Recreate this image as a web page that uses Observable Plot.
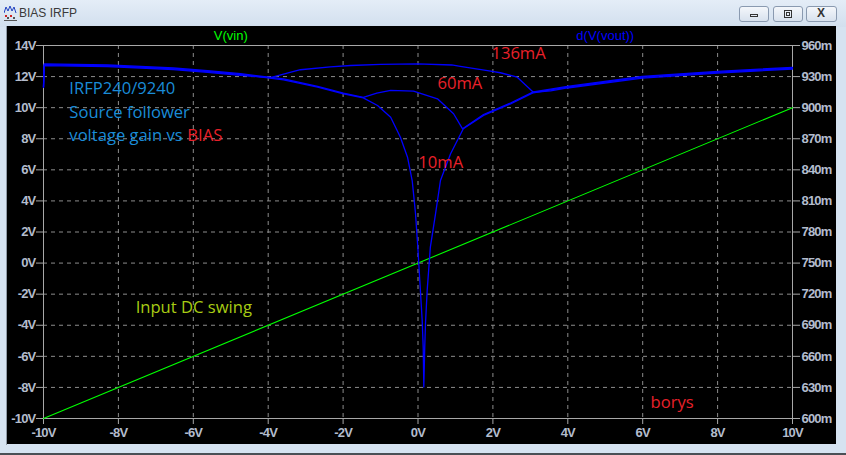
<!DOCTYPE html>
<html><head><meta charset="utf-8">
<script src="https://cdn.jsdelivr.net/npm/d3@7"></script>
<script src="https://cdn.jsdelivr.net/npm/@observablehq/plot@0.6"></script>
<style>
html,body{margin:0;padding:0;}
body{width:846px;height:455px;background:#d6e3f1;position:relative;overflow:hidden;font-family:"Liberation Sans",Arial,sans-serif;}
#titlebar{position:absolute;left:0;top:0;width:846px;height:27px;background:linear-gradient(#e4edf7,#d2dfee);}
#title{position:absolute;left:19px;top:6px;font-size:12px;color:#3a3a3a;font-family:"Liberation Sans",Arial,sans-serif;}
#icon{position:absolute;left:4px;top:5px;}
.btn{position:absolute;top:6px;height:16px;border:1px solid #8a9ab0;border-radius:3px;background:linear-gradient(#f4f7fb,#d8e2ee);box-sizing:border-box;}
.btn .g{position:absolute;}
#frameL{position:absolute;left:6px;top:26px;width:1px;height:419px;background:#8f9aa6;}
#frameB{position:absolute;left:0;top:453px;width:846px;height:2px;background:#4a4f55;}
#chart{position:absolute;left:7px;top:26px;}
</style>
</head><body>
<div id="titlebar">
  <svg id="icon" width="13" height="17" viewBox="0 0 13 17">
    <polyline points="0,8 2,2 4,6 6,1 8,6 10,2 12,8" fill="none" stroke="#2040c0" stroke-width="1"/>
    <rect x="1" y="10" width="2" height="2" fill="#d02020"/><rect x="6" y="10" width="2" height="2" fill="#d02020"/>
    <rect x="3" y="12" width="2" height="2" fill="#555"/><rect x="9" y="12" width="2" height="2" fill="#555"/>
    <rect x="0" y="15" width="13" height="1" fill="#555"/>
  </svg>
  <div id="title">BIAS IRFP</div>
  <div class="btn" style="left:739px;width:30px;"><div class="g" style="left:10px;top:7px;width:8px;height:3px;border:1px solid #333;box-sizing:border-box;"></div></div>
  <div class="btn" style="left:773px;width:30px;"><div class="g" style="left:10px;top:3px;width:8px;height:8px;border:1px solid #333;box-sizing:border-box;"></div><div class="g" style="left:12px;top:5px;width:4px;height:4px;border:1px solid #333;box-sizing:border-box;"></div></div>
  <div class="btn" style="left:806px;width:31px;"><div class="g" style="left:10px;top:-1px;font:bold 12px 'Liberation Sans';color:#333;">X</div></div>
</div>
<div id="frameL"></div>
<div id="chart"></div>
<div id="frameB"></div>
<script>
// V(vin) : input DC swing (left axis, volts)
const vinX = [-10, 10];
const vinY = [-10, 10];

// d(V(vout)) gain curves (right axis), one per bias current
const vin10 = [-10, -9.98, -8.29, -7.41, -6.53, -5.62, -4.74, -3.59, -2.68, -1.99, -1.46, -1.08, -0.73, -0.47, -0.28, -0.155, -0.11, -0.067, -0.005, 0.048, 0.112, 0.139, 0.155, 0.18, 0.20, 0.245, 0.33, 0.47, 0.60, 0.87, 1.21, 1.75, 2.47, 3.08, 3.54, 3.99, 5.99, 8.0, 10];
const gain10 = [0.9198, 0.9414, 0.9404, 0.9391, 0.9375, 0.9349, 0.9320, 0.9269, 0.9198, 0.9134, 0.9095, 0.9021, 0.8908, 0.8715, 0.8522, 0.8297, 0.8136, 0.7979, 0.7654, 0.7332, 0.6946, 0.6689, 0.6303, 0.6689, 0.6917, 0.7236, 0.7654, 0.7979, 0.8297, 0.8555, 0.8796, 0.8925, 0.9037, 0.9144, 0.9171, 0.9198, 0.9294, 0.9342, 0.9381];

const vin60 = [-10, -9.98, -8.29, -7.41, -6.53, -5.62, -4.74, -3.59, -2.68, -1.99, -1.46, -1.1, -0.73, -0.12, 0.52, 0.95, 1.19, 1.75, 2.47, 3.08, 3.54, 3.99, 5.99, 8.0, 10];
const gain60 = [0.9198, 0.9422, 0.9412, 0.9399, 0.9383, 0.9357, 0.9328, 0.9277, 0.9206, 0.9141, 0.9100, 0.9140, 0.9166, 0.9159, 0.9086, 0.8941, 0.8796, 0.8934, 0.9045, 0.9152, 0.9179, 0.9206, 0.9302, 0.9350, 0.9389];

const vin136 = [-10, -9.98, -8.29, -7.41, -6.53, -5.62, -4.74, -3.94, -3.14, -2.34, -1.80, -1.0, -0.01, 0.9, 1.13, 1.94, 2.20, 2.65, 3.08, 3.54, 3.99, 5.99, 8.0, 10];
const gain136 = [0.9198, 0.9406, 0.9396, 0.9383, 0.9367, 0.9341, 0.9312, 0.9290, 0.9366, 0.9394, 0.9407, 0.9418, 0.9423, 0.9412, 0.9398, 0.9352, 0.9337, 0.9294, 0.9149, 0.9163, 0.9190, 0.9286, 0.9334, 0.9373];

const series = [
  {name: "10mA", x: vin10, g: gain10},
  {name: "60mA", x: vin60, g: gain60},
  {name: "136mA", x: vin136, g: gain136}
];

// tick values
const xTicks = d3.range(-10, 11, 2);
const yTicks = d3.range(-10, 15, 2);
const rightOffset = 0.75, rightPerVolt = 0.015; // right axis: 600m..960m mapped onto -10V..14V

// annotations
const notes = [
  {text: "136mA", x: 1.96, y: 13.49, color: "#e8202a"},
  {text: "60mA", x: 0.52, y: 11.55, color: "#e8202a"},
  {text: "10mA", x: 0.01, y: 6.47, color: "#e8202a"},
  {text: "IRFP240/9240", x: -9.31, y: 11.23, color: "#1a8cd8"},
  {text: "Source follower", x: -9.31, y: 9.68, color: "#1a8cd8"},
  {text: "voltage gain vs", x: -9.31, y: 8.21, color: "#1a8cd8"},
  {text: "BIAS", x: -6.16, y: 8.21, color: "#e8202a"},
  {text: "Input DC swing", x: -7.54, y: -2.86, color: "#a8cc14"},
  {text: "borys", x: 6.21, y: -8.97, color: "#e8202a"}
];
const traceLabels = [
  {text: "V(vin)", x: -5, color: "#00ff00"},
  {text: "d(V(vout))", x: 5, color: "#0000ff"}
];

const gainRows = series.flatMap(s => s.x.map((x, i) => ({series: s.name, x, y: (s.g[i] - rightOffset) / rightPerVolt})));
const vinRows = vinX.map((x, i) => ({x, y: vinY[i]}));

const fmtV = d => (d < 0 ? "-" + Math.abs(d) : String(d)) + "V";
const axisFont = {fontSize: 13, fontWeight: "bold", fontFamily: "Liberation Sans, Arial, sans-serif", fill: "#b3bccd"};

const chart = Plot.plot({
  width: 829, height: 418,
  marginLeft: 36, marginRight: 44, marginTop: 19, marginBottom: 26,
  style: {background: "#000", color: "#b3bccd", fontFamily: "Liberation Sans, Arial, sans-serif", overflow: "visible"},
  x: {domain: [-10, 10]},
  y: {domain: [-10, 14]},
  marks: [
    Plot.gridX(xTicks.filter(d => d > -10 && d < 10), {stroke: "#8c8c8c", strokeOpacity: 1, strokeDasharray: "4,4"}),
    Plot.gridY(yTicks.filter(d => d > -10 && d < 14), {stroke: "#8c8c8c", strokeOpacity: 1, strokeDasharray: "4,4"}),
    Plot.frame({stroke: "#a8a8a8"}),
    Plot.axisY({ticks: yTicks, tickFormat: fmtV, tickSize: 7, tickPadding: 1, stroke: "#a8a8a8", label: null, ...axisFont}),
    Plot.axisY({anchor: "right", ticks: yTicks, tickFormat: d => Math.round((rightOffset + d * rightPerVolt) * 1000) + "m", tickSize: 7, tickPadding: 2, stroke: "#a8a8a8", label: null, ...axisFont}),
    Plot.axisX({ticks: xTicks, tickFormat: fmtV, tickSize: 6, tickPadding: 3, stroke: "#a8a8a8", label: null, ...axisFont}),
    Plot.line(vinRows, {x: "x", y: "y", stroke: "#00ff00", strokeWidth: 1.1}),
    Plot.line(gainRows, {x: "x", y: "y", z: "series", stroke: "#0000ff", strokeWidth: 1.3}),
    Plot.text(notes, {x: "x", y: "y", text: "text", fill: "color", textAnchor: "start", fontSize: 16.6, fontFamily: "Open Sans, Noto Sans, sans-serif"}),
    Plot.text(traceLabels, {x: "x", y: () => 14, dy: -10, text: "text", fill: "color", fontSize: 13, fontFamily: "Liberation Sans, Arial, sans-serif"})
  ]
});
document.getElementById("chart").appendChild(chart);
chart.querySelectorAll('g[aria-label$="tick label"] text').forEach(t => t.setAttribute("letter-spacing", "-0.8"));
</script>
</body></html>
